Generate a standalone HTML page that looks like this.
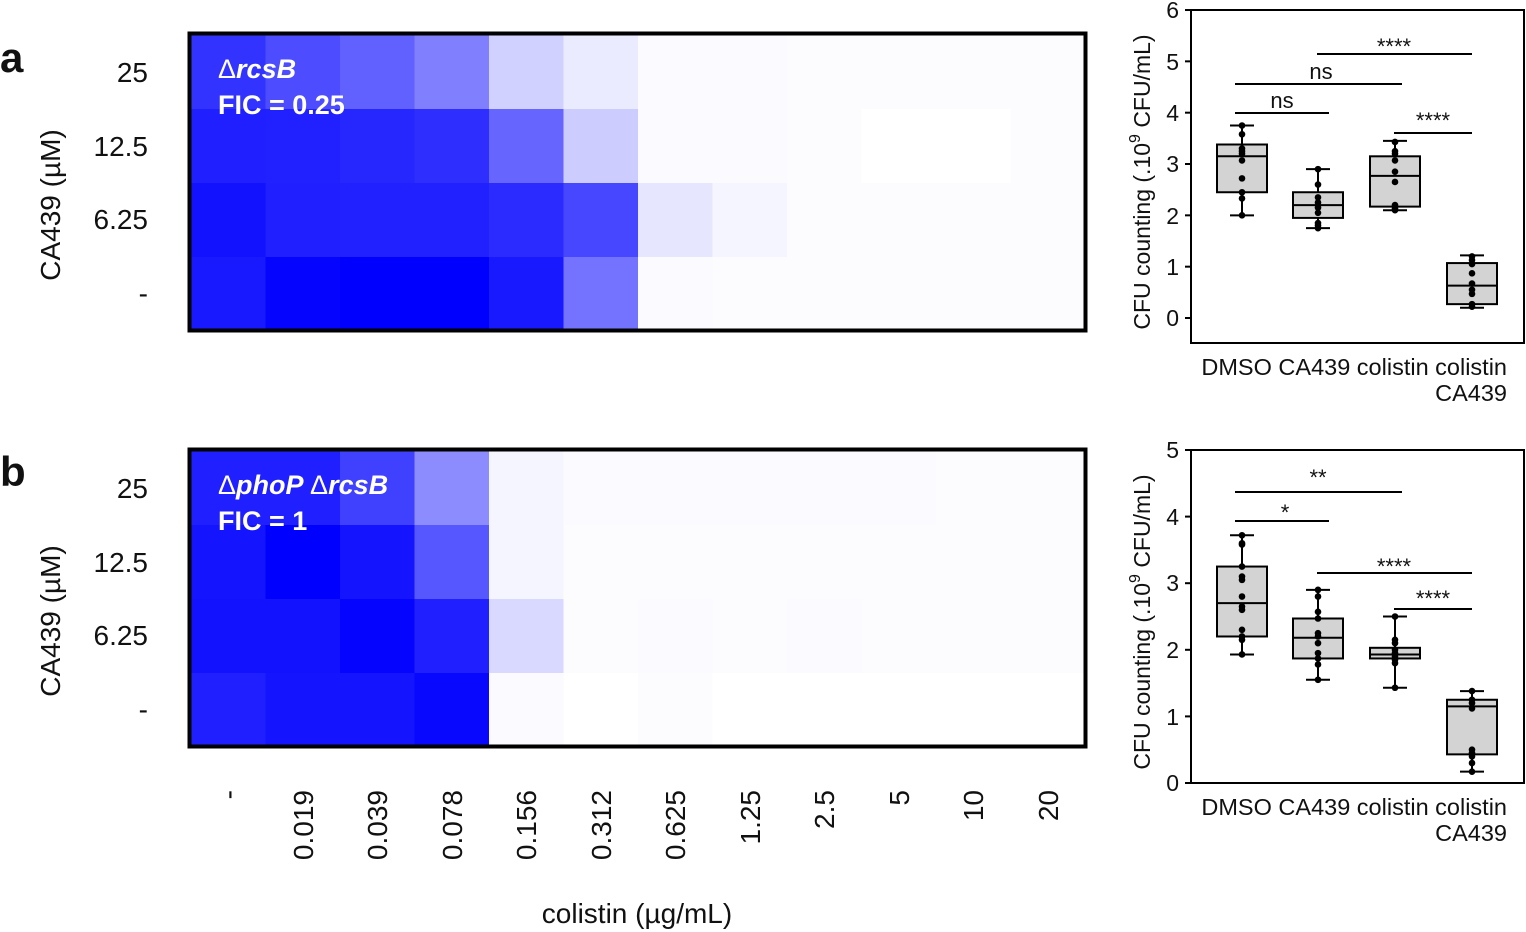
<!DOCTYPE html>
<html><head><meta charset="utf-8"><style>
html,body{margin:0;padding:0;background:#fff;width:1526px;height:932px;overflow:hidden}
svg text{font-family:"Liberation Sans",Arial,sans-serif;fill:#111}
</style></head><body>
<svg id="s" width="1526" height="932" viewBox="0 0 1526 932" xmlns="http://www.w3.org/2000/svg">
<g id="hmA"></g><g id="hmB"></g>
<rect x="189.5" y="33.5" width="896" height="297" fill="none" stroke="#000" stroke-width="4"/>
<rect x="189.5" y="449.5" width="896" height="297" fill="none" stroke="#000" stroke-width="4"/>
<text x="0" y="72" font-size="42" font-weight="bold" fill="#222">a</text>
<text x="0" y="486" font-size="42" font-weight="bold" fill="#222">b</text>
<g font-size="28" text-anchor="end">
<text x="148" y="82">25</text><text x="148" y="156">12.5</text><text x="148" y="229">6.25</text><text x="148" y="303">-</text>
<text x="148" y="498">25</text><text x="148" y="572">12.5</text><text x="148" y="645">6.25</text><text x="148" y="719">-</text>
</g>
<text transform="translate(60,205) rotate(-90)" font-size="28" text-anchor="middle">CA439 (µM)</text>
<text transform="translate(60,621) rotate(-90)" font-size="28" text-anchor="middle">CA439 (µM)</text>
<g fill="#fff" font-weight="bold" font-size="27">
<text x="218" y="78" style="fill:#fff"><tspan font-weight="normal">Δ</tspan><tspan font-style="italic">rcsB</tspan></text>
<text x="218" y="114" style="fill:#fff">FIC = 0.25</text>
<text x="218" y="494" style="fill:#fff"><tspan font-weight="normal">Δ</tspan><tspan font-style="italic">phoP </tspan><tspan font-weight="normal">Δ</tspan><tspan font-style="italic">rcsB</tspan></text>
<text x="218" y="530" style="fill:#fff">FIC = 1</text>
</g>
<g font-size="28" text-anchor="end">
<text transform="translate(238,790) rotate(-90)">-</text>
<text transform="translate(313,790) rotate(-90)">0.019</text>
<text transform="translate(387,790) rotate(-90)">0.039</text>
<text transform="translate(462,790) rotate(-90)">0.078</text>
<text transform="translate(536,790) rotate(-90)">0.156</text>
<text transform="translate(611,790) rotate(-90)">0.312</text>
<text transform="translate(685,790) rotate(-90)">0.625</text>
<text transform="translate(760,790) rotate(-90)">1.25</text>
<text transform="translate(834,790) rotate(-90)">2.5</text>
<text transform="translate(909,790) rotate(-90)">5</text>
<text transform="translate(983,790) rotate(-90)">10</text>
<text transform="translate(1058,790) rotate(-90)">20</text>
</g>
<text x="637" y="923" font-size="28" text-anchor="middle">colistin (µg/mL)</text>

<rect x="1191" y="10" width="333" height="333" fill="none" stroke="#000" stroke-width="2"/>
<rect x="1191" y="450" width="333" height="333" fill="none" stroke="#000" stroke-width="2"/>
<g font-size="23" text-anchor="end">
<text x="1179" y="18">6</text><text x="1179" y="70">5</text><text x="1179" y="121">4</text><text x="1179" y="172">3</text><text x="1179" y="224">2</text><text x="1179" y="275">1</text><text x="1179" y="326">0</text>
<text x="1179" y="458">5</text><text x="1179" y="525">4</text><text x="1179" y="591">3</text><text x="1179" y="658">2</text><text x="1179" y="725">1</text><text x="1179" y="791">0</text>
</g>
<text transform="translate(1150,182) rotate(-90)" font-size="23" text-anchor="middle">CFU counting (.10<tspan dy="-10" font-size="16">9</tspan><tspan dy="10"> CFU/mL)</tspan></text>
<text transform="translate(1150,622) rotate(-90)" font-size="23" text-anchor="middle">CFU counting (.10<tspan dy="-10" font-size="16">9</tspan><tspan dy="10"> CFU/mL)</tspan></text>
<g font-size="23.5" text-anchor="end">
<text x="1507" y="375">DMSO CA439 colistin colistin</text><text x="1507" y="401">CA439</text>
<text x="1507" y="815">DMSO CA439 colistin colistin</text><text x="1507" y="841">CA439</text>
</g>
<g font-size="22" text-anchor="middle">
<text x="1282" y="108">ns</text><text x="1321" y="79">ns</text><text x="1394" y="54">****</text><text x="1433" y="128">****</text>
<text x="1285" y="520">*</text><text x="1318" y="485">**</text><text x="1394" y="574">****</text><text x="1433" y="606">****</text>
</g>
<g stroke="#000" stroke-width="2">
<line x1="1235" y1="113" x2="1329" y2="113"/><line x1="1235" y1="84" x2="1402" y2="84"/>
<line x1="1317" y1="54" x2="1472" y2="54"/><line x1="1394" y1="133" x2="1472" y2="133"/>
<line x1="1235" y1="521" x2="1329" y2="521"/><line x1="1235" y1="492" x2="1402" y2="492"/>
<line x1="1317" y1="573" x2="1472" y2="573"/><line x1="1394" y1="609" x2="1472" y2="609"/>
</g>
<g id="bx"></g>
</svg>
<script>
var NS="http://www.w3.org/2000/svg";
function el(p,t,a){var e=document.createElementNS(NS,t);for(var k in a)e.setAttribute(k,a[k]);p.appendChild(e);return e;}
var A=[[0.8,0.7,0.62,0.5,0.18,0.08,0.02,0.02,0.01,0.01,0.01,0.01],
[0.88,0.87,0.85,0.82,0.6,0.2,0.02,0.02,0.01,0,0,0.01],
[0.93,0.88,0.87,0.87,0.83,0.72,0.1,0.04,0.01,0.01,0.01,0.01],
[0.9,0.98,1,1,0.9,0.55,0.02,0.01,0.01,0.01,0.01,0.01]];
var B=[[0.88,0.88,0.75,0.45,0.04,0.02,0.02,0.02,0.02,0.02,0.01,0.01],
[0.92,1,0.92,0.66,0.04,0.01,0.01,0.01,0.01,0.01,0.01,0.01],
[0.93,0.93,0.98,0.88,0.15,0.01,0.02,0.01,0.02,0.01,0.01,0.01],
[0.88,0.92,0.92,0.97,0.02,0,0.01,0,0,0,0,0]];
function hm(g,M,y0){var G=document.getElementById(g);for(var r=0;r<4;r++)for(var c=0;c<12;c++){var v=M[r][c],w=Math.round(255*(1-v));
el(G,"rect",{x:191+c*74.5,y:y0+r*74,width:75.5,height:75,fill:"rgb("+w+","+w+",255)"});}}
hm("hmA",A,35);hm("hmB",B,451);
var bx=document.getElementById("bx");
function box(cx,y0,s,d){var Y=function(v){return y0-v*s};
el(bx,"line",{x1:cx,y1:Y(d.w[0]),x2:cx,y2:Y(d.w[1]),stroke:"#000","stroke-width":2});
el(bx,"line",{x1:cx-12,y1:Y(d.w[0]),x2:cx+12,y2:Y(d.w[0]),stroke:"#000","stroke-width":2});
el(bx,"line",{x1:cx-12,y1:Y(d.w[1]),x2:cx+12,y2:Y(d.w[1]),stroke:"#000","stroke-width":2});
el(bx,"rect",{x:cx-25,y:Y(d.b[1]),width:50,height:Y(d.b[0])-Y(d.b[1]),fill:"#d3d3d3",stroke:"#000","stroke-width":2});
el(bx,"line",{x1:cx-25,y1:Y(d.m),x2:cx+25,y2:Y(d.m),stroke:"#000","stroke-width":2});
d.p.forEach(function(v){el(bx,"circle",{cx:cx,cy:Y(v),r:3.3,fill:"#000"});});}
var xs=[1242,1318,1395,1472];
var PA=[{w:[2,3.75],b:[2.45,3.38],m:3.15,p:[3.75,3.58,3.3,3.25,3.2,3.07,2.72,2.45,2.33,2]},
{w:[1.75,2.9],b:[1.95,2.45],m:2.2,p:[2.9,2.6,2.35,2.25,2.15,2.05,1.85,1.75,1.8]},
{w:[2.1,3.45],b:[2.17,3.15],m:2.77,p:[3.43,3.25,3.2,3.07,2.85,2.65,2.2,2.13,2.1]},
{w:[0.2,1.22],b:[0.27,1.07],m:0.63,p:[1.2,1.13,1.05,0.87,0.67,0.55,0.47,0.27,0.22]}];
var PB=[{w:[1.93,3.72],b:[2.2,3.25],m:2.7,p:[3.72,3.6,3.58,3.25,3.1,3.05,2.8,2.65,2.6,2.3,2.2,2.15,1.93]},
{w:[1.55,2.9],b:[1.87,2.47],m:2.18,p:[2.9,2.8,2.57,2.47,2.25,2.2,2.1,1.95,1.87,1.78,1.55]},
{w:[1.43,2.5],b:[1.87,2.03],m:1.93,p:[2.5,2.15,2.1,2,1.95,1.9,1.85,1.8,1.43]},
{w:[0.17,1.38],b:[0.43,1.25],m:1.15,p:[1.38,1.25,1.2,1.12,0.5,0.45,0.4,0.3,0.17]}];
for(var i=0;i<4;i++){box(xs[i],318,51.33,PA[i]);box(xs[i],783,66.6,PB[i]);}
var s=document.getElementById("s");
for(var k=0;k<=6;k++)el(s,"line",{x1:1185,y1:318-k*51.33,x2:1191,y2:318-k*51.33,stroke:"#000","stroke-width":2});
for(var k=0;k<=5;k++)el(s,"line",{x1:1185,y1:783-k*66.6,x2:1191,y2:783-k*66.6,stroke:"#000","stroke-width":2});
</script>
</body></html>
